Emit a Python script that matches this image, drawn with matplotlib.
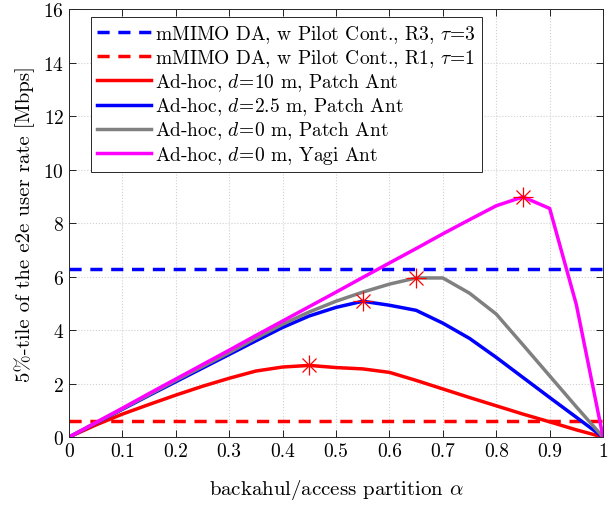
import numpy as np
import matplotlib
matplotlib.use("Agg")
import matplotlib.pyplot as plt

plt.rcParams['font.family'] = 'serif'
plt.rcParams['font.serif'] = ['cmr10']
plt.rcParams['mathtext.fontset'] = 'cm'
plt.rcParams['axes.formatter.use_mathtext'] = True

alpha = [0, 0.05, 0.1, 0.15, 0.2, 0.25, 0.3, 0.35, 0.4, 0.45, 0.5,
         0.55, 0.6, 0.65, 0.7, 0.75, 0.8, 0.85, 0.9, 0.95, 1.0]

dmimo_r3 = 6.27
dmimo_r1 = 0.61

adhoc_d10 = [0, 0.45, 0.86, 1.22, 1.57, 1.9, 2.2, 2.47, 2.62, 2.68, 2.6,
             2.55, 2.42, 2.12, 1.8, 1.48, 1.17, 0.86, 0.57, 0.27, 0]
adhoc_d25 = [0, 0.52, 1.04, 1.56, 2.07, 2.58, 3.09, 3.6, 4.1, 4.53, 4.85,
             5.08, 4.93, 4.74, 4.26, 3.69, 2.98, 2.23, 1.48, 0.74, 0]
adhoc_d0 = [0, 0.53, 1.06, 1.59, 2.12, 2.64, 3.16, 3.7, 4.22, 4.68, 5.08,
            5.42, 5.72, 5.95, 5.95, 5.38, 4.6, 3.45, 2.29, 1.13, 0]
adhoc_yagi = [0, 0.54, 1.08, 1.63, 2.17, 2.71, 3.25, 3.8, 4.34, 4.88, 5.42,
              5.97, 6.51, 7.05, 7.6, 8.13, 8.65, 8.98, 8.55, 4.95, 0]

fig = plt.figure(figsize=(6.16, 5.10), dpi=100)
ax = fig.add_axes([0.112, 0.141, 0.867, 0.839])

lw = 2.5
ax.axhline(dmimo_r3, color='#0000ff', ls=(0, (3.5, 2.5)), lw=lw,
           label=r'mMIMO DA, w Pilot Cont., R3, $\tau\!=\!3$')
ax.axhline(dmimo_r1, color='#ff0000', ls=(0, (3.5, 2.5)), lw=lw,
           label=r'mMIMO DA, w Pilot Cont., R1, $\tau\!=\!1$')
ax.plot(alpha, adhoc_d10, color='#ff0000', lw=lw, label=r'Ad-hoc, $d\!=\!10$ m, Patch Ant')
ax.plot(alpha, adhoc_d25, color='#0000ff', lw=lw, label=r'Ad-hoc, $d\!=\!2.5$ m, Patch Ant')
ax.plot(alpha, adhoc_d0, color='#808080', lw=lw, label=r'Ad-hoc, $d\!=\!0$ m, Patch Ant')
ax.plot(alpha, adhoc_yagi, color='#ff00ff', lw=lw, label=r'Ad-hoc, $d\!=\!0$ m, Yagi Ant')

# peak markers (matlab style asterisk = plus + cross)
for s in [adhoc_d10, adhoc_d25, adhoc_d0, adhoc_yagi]:
    i = int(np.argmax(s))
    ax.plot(alpha[i], s[i], marker='+', color='#ff0000', ms=14, mew=0.9,
            linestyle='none', zorder=5)
    ax.plot(alpha[i], s[i], marker='x', color='#ff0000', ms=10, mew=0.9,
            linestyle='none', zorder=5)

ax.set_xlim(0, 1)
ax.set_ylim(0, 16)
ax.set_xticks(np.arange(0, 1.01, 0.1))
ax.set_xticklabels(['0', '0.1', '0.2', '0.3', '0.4', '0.5', '0.6', '0.7', '0.8', '0.9', '1'])
ax.set_yticks(np.arange(0, 17, 2))
ax.tick_params(direction='in', top=True, right=True, labelsize=14, length=5, width=0.6)
ax.grid(True, color='#d0d0d0', ls=':', lw=0.8)
for sp in ax.spines.values():
    sp.set_linewidth(0.7)
    sp.set_color('#262626')

ax.set_xlabel(r'backahul/access partition $\alpha$', fontsize=15, labelpad=12)
ax.set_ylabel('5%-tile of the e2e user rate [Mbps]', fontsize=15, labelpad=6)

leg = ax.legend(loc='upper left', bbox_to_anchor=(0.041, 0.981), borderaxespad=0,
                fontsize=14, handlelength=2.8, handletextpad=0.2, borderpad=0.3,
                labelspacing=0.12, fancybox=False, framealpha=1, edgecolor='#262626')
leg.get_frame().set_linewidth(0.7)

fig.savefig('out.png', dpi=100)
